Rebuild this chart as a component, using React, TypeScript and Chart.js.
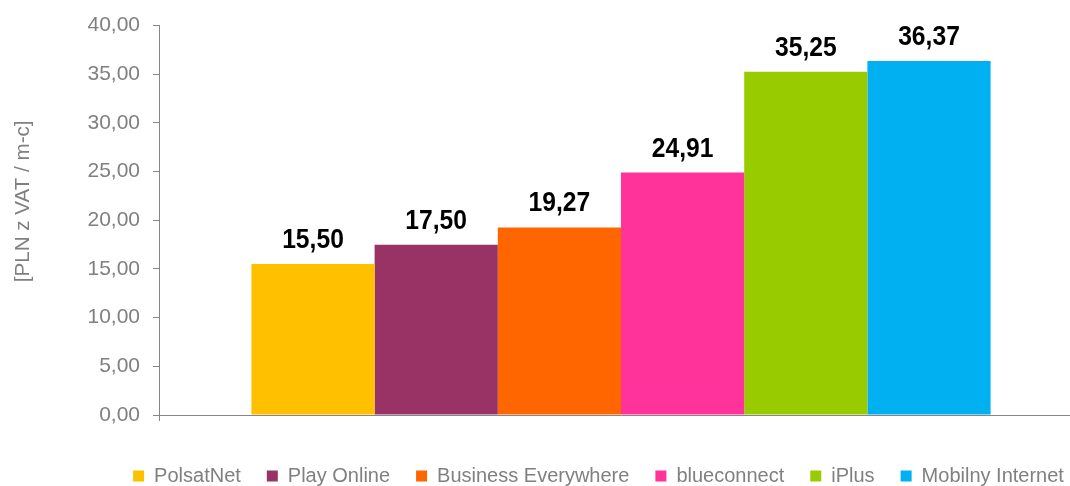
import React, { useEffect, useRef } from "react";
import { Chart, registerables } from "chart.js";

Chart.register(...registerables);

const categories = [""];
const seriesNames = ["PolsatNet", "Play Online", "Business Everywhere", "blueconnect", "iPlus", "Mobilny Internet"];
const seriesValues = [15.5, 17.5, 19.27, 24.91, 35.25, 36.37];
const seriesColors = ["#FFC000", "#993366", "#FF6600", "#FF3399", "#99CC00", "#00B0F0"];
const yMin = 0;
const yMax = 40;
const yStep = 5;
const yTitle = "[PLN z VAT / m-c]";

const FONT = '"Liberation Sans", Arial, sans-serif';
const GRAY = "#808080";
const AXIS = "#868686";

const fmt = (v: number) => v.toFixed(2).replace(".", ",");

const labelsPlugin = {
  id: "valueLabels",
  afterDatasetsDraw(chart: any) {
    const ctx = chart.ctx;
    chart.data.datasets.forEach((ds: any, i: number) => {
      const meta = chart.getDatasetMeta(i);
      meta.data.forEach((bar: any, j: number) => {
        ctx.save();
        ctx.translate(bar.x, bar.y - 16);
        ctx.scale(0.88, 1);
        ctx.font = `bold 28px ${FONT}`;
        ctx.fillStyle = "#000000";
        ctx.textAlign = "center";
        ctx.textBaseline = "alphabetic";
        ctx.fillText(fmt(ds.data[j]), 0, 0);
        ctx.restore();
      });
    });
  },
};

const yTitlePlugin = {
  id: "yTitle",
  afterDraw(chart: any) {
    const ctx = chart.ctx;
    const ca = chart.chartArea;
    ctx.save();
    ctx.translate(ca.left - 136, (ca.top + ca.bottom) / 2 - 19);
    ctx.rotate(-Math.PI / 2);
    ctx.font = `20.6px ${FONT}`;
    ctx.fillStyle = GRAY;
    ctx.textAlign = "center";
    ctx.textBaseline = "middle";
    ctx.fillText(yTitle, 0, 0);
    ctx.restore();
  },
};

export default function App() {
  const ref = useRef<HTMLCanvasElement>(null);
  useEffect(() => {
    if (!ref.current) return;
    const chart = new Chart(ref.current, {
      type: "bar",
      data: {
        labels: categories,
        datasets: seriesNames.map((name, i) => ({
          label: name,
          data: [seriesValues[i]],
          backgroundColor: seriesColors[i],
          borderWidth: 0,
          categoryPercentage: 0.8,
          barPercentage: 1,
          yAxisID: "y",
        })),
      },
      options: {
        responsive: false,
        animation: false,
        devicePixelRatio: 1,
        layout: { padding: { left: 0, right: 0, top: 25, bottom: -10 } },
        plugins: {
          tooltip: { enabled: false },
          legend: {
            position: "bottom",
            labels: {
              font: { family: FONT, size: 20 },
              color: GRAY,
              boxWidth: 11,
              boxHeight: 11,
              padding: 26,
            },
          },
        },
        scales: {
          x: {
            ticks: { display: false },
            grid: { drawOnChartArea: false, color: AXIS, tickLength: 6 },
            border: { color: AXIS, width: 1 },
            afterFit: (s: any) => {
              s.height = 25;
            },
          },
          y: {
            position: "left",
            min: yMin,
            max: yMax,
            ticks: {
              stepSize: yStep,
              padding: 13,
              color: GRAY,
              font: { family: FONT, size: 21 },
              callback: (v: any) => fmt(Number(v)),
            },
            grid: { drawOnChartArea: false, color: AXIS, tickLength: 6 },
            border: { color: AXIS, width: 1 },
            afterFit: (s: any) => {
              s.width = 159;
            },
          },
          spacer: {
            type: "linear",
            position: "right",
            ticks: { display: false },
            grid: { display: false },
            border: { display: false },
            afterFit: (s: any) => {
              s.width = 114;
            },
          },
        },
      },
      plugins: [labelsPlugin, yTitlePlugin],
    });
    return () => chart.destroy();
  }, []);
  return (
    <div style={{ position: "fixed", left: 0, top: 0, width: 1070, height: 486, overflow: "hidden", background: "#fff" }}>
      <canvas ref={ref} width={1197} height={486} style={{ display: "block", width: 1197, height: 486 }} />
    </div>
  );
}
